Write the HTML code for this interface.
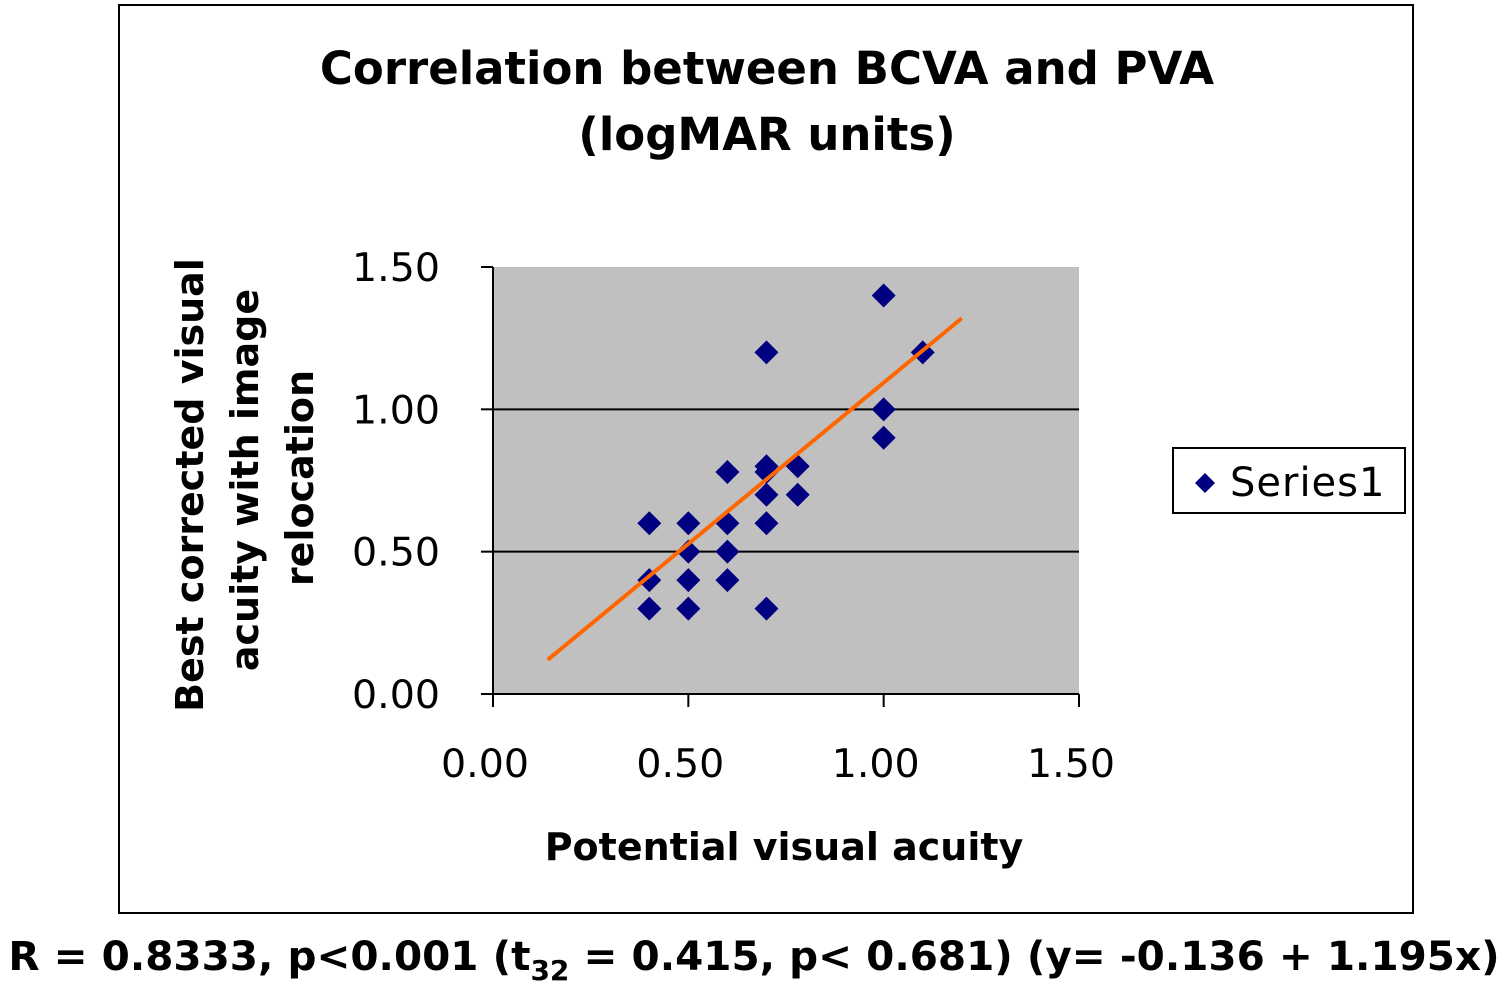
<!DOCTYPE html>
<html><head><meta charset="utf-8"><style>
body{margin:0;background:#fff;width:1508px;height:988px;overflow:hidden}
svg{display:block}
text{font-family:"DejaVu Sans","Liberation Sans",sans-serif}
</style></head><body>
<svg id="chart" width="1508" height="988">
<rect x="119" y="5" width="1294" height="908" fill="#fff" stroke="#000" stroke-width="2"/>
<text x="767" y="84" text-anchor="middle" font-size="45" font-weight="bold">Correlation between BCVA and PVA</text>
<text x="767" y="150" text-anchor="middle" font-size="45" font-weight="bold">(logMAR units)</text>
<rect x="493" y="267" width="586" height="427" fill="#c0c0c0"/>
<g id="grid"></g><g id="axes"></g><g id="marks"></g>
<text transform="translate(203,485) rotate(-90)" text-anchor="middle" font-size="38" font-weight="bold">Best corrected visual</text>
<text transform="translate(258,480) rotate(-90)" text-anchor="middle" font-size="38" font-weight="bold">acuity with image</text>
<text transform="translate(313,478) rotate(-90)" text-anchor="middle" font-size="38" font-weight="bold">relocation</text>
<text x="784" y="860" text-anchor="middle" font-size="38" font-weight="bold">Potential visual acuity</text>
<g>
<rect x="1173" y="448" width="232" height="65" fill="#fff" stroke="#000" stroke-width="2"/>
<path d="M1205 473 L1215 483 L1205 493 L1195 483Z" fill="#000080"/>
<text x="1230" y="496" font-size="40" letter-spacing="1">Series1</text>
</g>
<text x="754" y="970" text-anchor="middle" font-size="40.5" font-weight="bold">R = 0.8333, p&lt;0.001 (t<tspan font-size="28" dy="10">32</tspan><tspan dy="-10"> = 0.415, p&lt; 0.681) (y= -0.136 + 1.195x)</tspan></text>
</svg>
<script>
const xs=[0.4,0.4,0.4,0.5,0.5,0.5,0.5,0.6,0.6,0.6,0.6,0.7,0.7,0.7,0.7,0.7,0.7,0.78,0.78,1.0,1.0,1.0,1.1];
const ys=[0.6,0.4,0.3,0.6,0.5,0.4,0.3,0.78,0.6,0.5,0.4,1.2,0.8,0.78,0.7,0.6,0.3,0.8,0.7,1.4,1.0,0.9,1.2];
const trendX=[0.14,1.2];
const trendY=[0.12,1.32];
const ticks=[0,0.5,1.0,1.5];
const tickLabels=["0.00","0.50","1.00","1.50"];
const NS="http://www.w3.org/2000/svg";
const X=v=>493+v*586/1.5, Y=v=>694-v*427/1.5;
function mk(t,a,p){const e=document.createElementNS(NS,t);for(const k in a)e.setAttribute(k,a[k]);p.appendChild(e);return e;}
const g=document.getElementById('grid'),ax=document.getElementById('axes'),m=document.getElementById('marks');
ticks.forEach((t,i)=>{
 if(t>0&&t<1.5){const l=mk('line',{x1:493,x2:1079,y1:Y(t),y2:Y(t),stroke:'#000','stroke-width':2},g);
 
 }
 const ty=mk('line',{x1:481,x2:493,y1:Y(t),y2:Y(t),stroke:'#000','stroke-width':2},ax);
 
 
 const yl=mk('text',{x:440,y:Y(t)+14,'text-anchor':'end','font-size':39.5},ax);yl.textContent=tickLabels[i];
 
 
 const tx=mk('line',{x1:X(t),x2:X(t),y1:694,y2:707,stroke:'#000','stroke-width':2},ax);
 
 
 const xl=mk('text',{x:X(t)-8,y:777,'text-anchor':'middle','font-size':39.5},ax);xl.textContent=tickLabels[i];
 
 
});
const ya=mk('line',{x1:493,x2:493,y1:267,y2:694,stroke:'#000','stroke-width':2},ax);


const xa=mk('line',{x1:481,x2:1079,y1:694,y2:694,stroke:'#000','stroke-width':2},ax);


xs.forEach((v,i)=>{const cx=X(v),cy=Y(ys[i]);
 const p=mk('path',{d:`M${cx} ${cy-12}L${cx+12} ${cy}L${cx} ${cy+12}L${cx-12} ${cy}Z`,fill:'#000080'},m);
 
 
});
const tl=mk('line',{x1:X(trendX[0]),y1:Y(trendY[0]),x2:X(trendX[1]),y2:Y(trendY[1]),stroke:'#ff6600','stroke-width':4},m);


</script>
</body></html>
